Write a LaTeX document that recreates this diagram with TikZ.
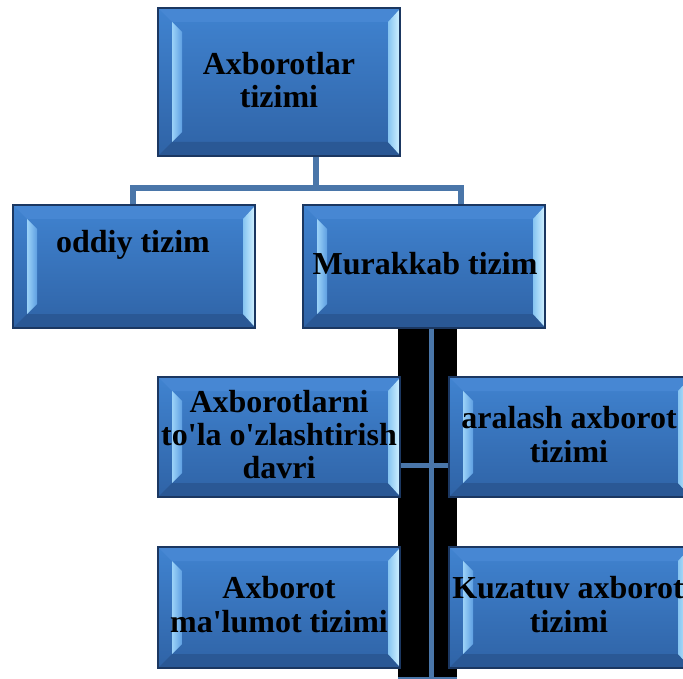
\documentclass[tikz,border=0pt]{standalone}
\usepackage{fontspec}
\setmainfont{Liberation Serif}
\usetikzlibrary{calc}

\definecolor{facetop}{HTML}{4083D0}
\definecolor{facebot}{HTML}{2F63A6}
\definecolor{boxedge}{HTML}{1B3761}
\definecolor{bandtop}{HTML}{4787D3}
\definecolor{bandbot}{HTML}{2A5895}
\definecolor{hlLa}{HTML}{9BD2F8}
\definecolor{hlLb}{HTML}{5E9FE2}
\definecolor{hlRa}{HTML}{86C4F1}
\definecolor{hlRb}{HTML}{CDEFFF}
\definecolor{connblue}{HTML}{4A76A9}

\tikzset{
  % blue button with a bevelled rim
  bevelbox/.style={rectangle, draw=boxedge, line width=1.4pt, inner sep=0pt,
    minimum width=242pt, minimum height=#1,
    top color=facetop, bottom color=facebot,
    path picture={
      \coordinate (bnw) at (path picture bounding box.north west);
      \coordinate (bse) at (path picture bounding box.south east);
      \coordinate (bne) at (bnw -| bse);
      \coordinate (bsw) at (bse -| bnw);
      \fill[bandtop] (bnw) -- (bne) -- ($(bne)+(-12pt,-14pt)$)
        -- ($(bnw)+(14pt,-14pt)$) -- cycle;
      \fill[bandbot] (bsw) -- (bse) -- ($(bse)+(-12pt,14pt)$)
        -- ($(bsw)+(14pt,14pt)$) -- cycle;
      \shade[left color=hlLa, right color=hlLb]
        ($(bnw)+(14pt,-14pt)$) -- ($(bnw)+(24pt,-24pt)$)
        -- ($(bsw)+(24pt,24pt)$) -- ($(bsw)+(14pt,14pt)$) -- cycle;
      \shade[left color=hlRa, right color=hlRb]
        ($(bne)+(-12pt,-14pt)$) -- ($(bne)+(-1pt,-2pt)$)
        -- ($(bse)+(-1pt,2pt)$) -- ($(bse)+(-12pt,14pt)$) -- cycle;
    }},
  boxtext/.style={font=\fontsize{32}{34}\selectfont\bfseries, text=black,
    inner sep=0pt, anchor=base},
  conn/.style={draw=connblue, line width=6.5pt},
  barline/.style={draw=connblue, line width=5pt},
}

\begin{document}
\begin{tikzpicture}[x=1pt,y=-1pt]
\useasboundingbox (0,0) rectangle (683,679);
\clip (0,0) rectangle (683,679);
\fill[white] (0,0) rectangle (683,679);

% connectors under the top level
\coordinate (hub) at (316,188);
\coordinate (hubL) at (133,188);
\coordinate (hubR) at (461,188);

% dark column below "Murakkab tizim" with its spine
\fill[black] (398,328) rectangle (457,679);
\coordinate (spine) at (431,465.5);
\coordinate (spineend) at (431,677);
\coordinate (footL) at (398,678);
\coordinate (footR) at (457,678);

% boxes
\node[bevelbox=148pt] (top) at (279,82) {};
\node[bevelbox=123pt] (oddiy) at (134,266.5) {};
\node[bevelbox=123pt] (murakkab) at (424,266.5) {};
\node[bevelbox=120pt] (toliq) at (279,437) {};
\node[bevelbox=120pt, minimum width=241pt] (aralash) at (569.5,437) {};
\node[bevelbox=121pt] (malumot) at (279,607.5) {};
\node[bevelbox=121pt, minimum width=241pt] (kuzatuv) at (569.5,607.5) {};

\draw[conn] (top.south -| hub) -- (hub);
\draw[conn] (oddiy.north -| hubL) -- (hubL) -- (hubR) -- (murakkab.north -| hubR);

\draw[barline] (murakkab.south -| spine) -- (spineend);
\draw[barline] (toliq.east |- spine) -- (aralash.west |- spine);
\draw[connblue, line width=3pt] (footL) -- (footR);

% labels
\node[boxtext] (top-a) at (279,75) {Axborotlar};
\node[boxtext] (top-b) at (279,108) {tizimi};
\node[boxtext] (oddiy-t) at (133,253) {oddiy tizim};
\node[boxtext] (murakkab-t) at (425,275) {Murakkab tizim};
\node[boxtext] (toliq-a) at (279,412) {Axborotlarni};
\node[boxtext] (toliq-b) at (279,445) {to\textquotesingle la o\textquotesingle zlashtirish};
\node[boxtext] (toliq-c) at (279,478) {davri};
\node[boxtext] (aralash-a) at (569,428) {aralash axborot};
\node[boxtext] (aralash-b) at (569,462) {tizimi};
\node[boxtext] (malumot-a) at (279,598) {Axborot};
\node[boxtext] (malumot-b) at (279,632) {ma\textquotesingle lumot tizimi};
\node[boxtext] (kuzatuv-a) at (568,598) {Kuzatuv axborot};
\node[boxtext] (kuzatuv-b) at (569,632) {tizimi};
\end{tikzpicture}
\end{document}
